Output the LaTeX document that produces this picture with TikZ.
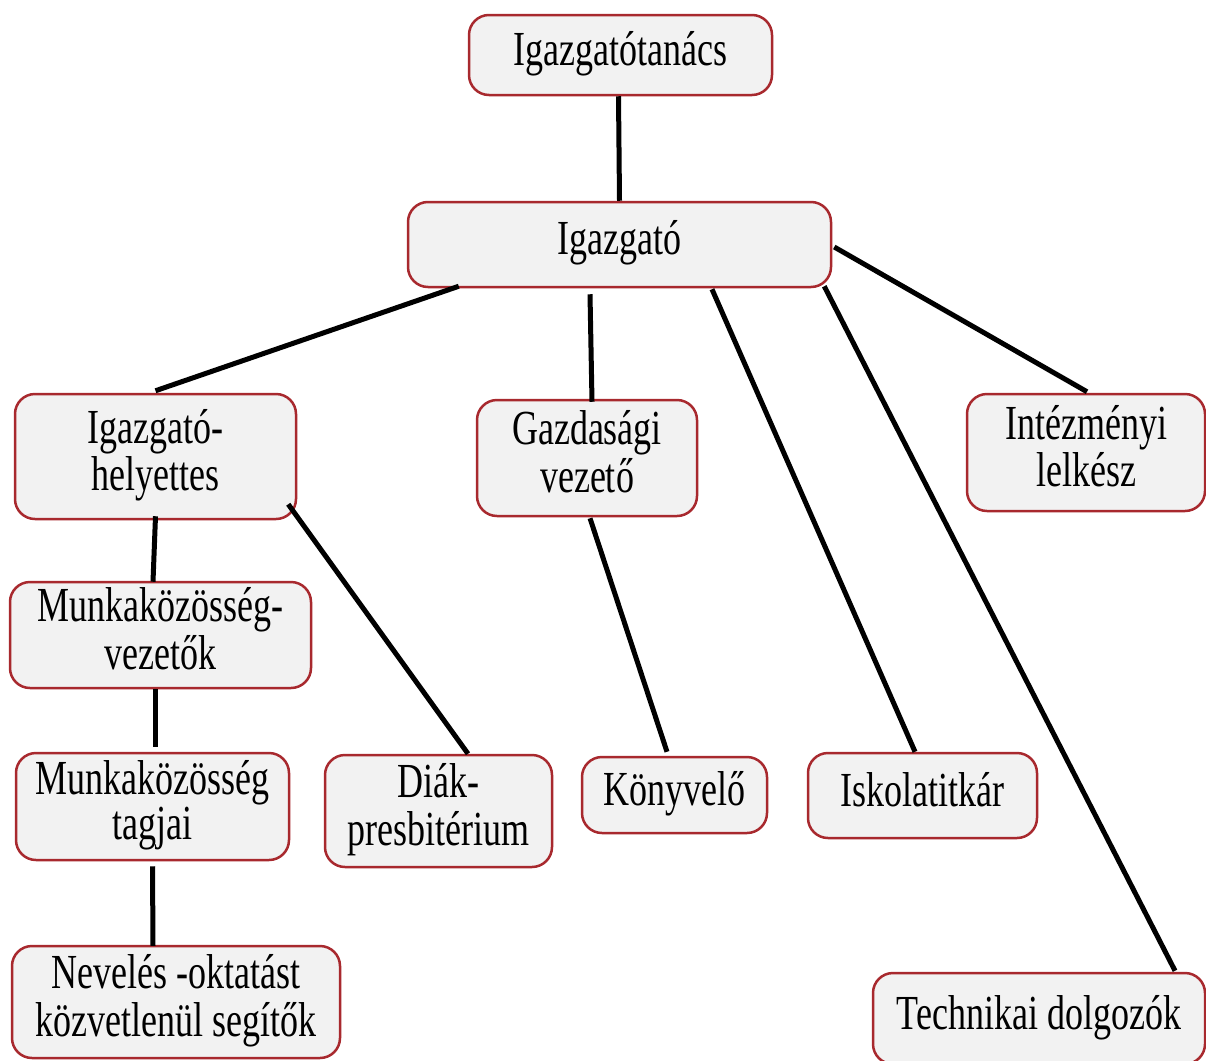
\documentclass[tikz,border=0pt]{standalone}
\usepackage{fontspec}
\setmainfont{Liberation Serif}
\usepackage{graphicx}
\definecolor{boxborder}{HTML}{A8292E}
\definecolor{boxfill}{HTML}{F2F2F2}
\newcommand{\vs}[1]{\scalebox{1}[1.36]{\begin{tabular}{@{}c@{}}#1\end{tabular}}}
\tikzset{
  orgbox/.style={draw=boxborder, fill=boxfill, line width=2.5pt, rounded corners=20pt, inner sep=0pt,
    font=\fontsize{36}{32}\selectfont},
  link/.style={line width=5pt, black}
}
\begin{document}
\begin{tikzpicture}[x=1pt,y=-1pt]
\useasboundingbox (0,0) rectangle (1206,1060);
\begin{scope}
\clip (0,0) rectangle (1206,1060);
\node[orgbox, minimum width=303pt, minimum height=80pt] (A) at (620.5,55) {\vs{Igazgatótanács}};
\node[orgbox, minimum width=423pt, minimum height=85pt] (B) at (619.5,244.5) {\vs{Igazgató}};
\node[orgbox, minimum width=281pt, minimum height=125pt] (C) at (155.5,456.5) {\vs{Igazgató-\\helyettes}};
\node[orgbox, minimum width=220pt, minimum height=116pt] (D) at (587,458) {\vs{Gazdasági\\vezető}};
\node[orgbox, minimum width=238pt, minimum height=117pt] (E) at (1086,452.5) {\vs{Intézményi\\lelkész}};
\node[orgbox, minimum width=301pt, minimum height=106pt] (F) at (160.5,635) {\vs{Munkaközösség-\\vezetők}};
\node[orgbox, minimum width=273pt, minimum height=107pt] (G) at (152.5,806.5) {\vs{Munkaközösség\\tagjai}};
\node[orgbox, minimum width=227pt, minimum height=112pt] (H) at (438.5,811) {\vs{Diák-\\presbitérium}};
\node[orgbox, minimum width=185pt, minimum height=76pt] (I) at (674.5,795) {\vs{Könyvelő}};
\node[orgbox, minimum width=229pt, minimum height=85pt] (J) at (922.5,795.5) {\vs{Iskolatitkár}};
\node[orgbox, minimum width=328pt, minimum height=112pt] (K) at (176,1002) {\vs{Nevelés -oktatást\\közvetlenül segítők}};
\node[orgbox, minimum width=332pt, minimum height=91pt] (L) at (1039,1018.5) {\vs{Technikai dolgozók}};

\draw[link] ([xshift=-2pt]A.south) -- (B.north);
\draw[link] ([xshift=52pt,yshift=2pt]B.south west) -- ([yshift=2pt]C.north);
\draw[link] ([xshift=-29.5pt,yshift=-6pt]B.south) -- ([xshift=5pt,yshift=-3pt]D.north);
\draw[link] ([xshift=92.5pt,yshift=-1pt]B.south) -- ([xshift=-7.5pt]J.north);
\draw[link] ([xshift=-8pt,yshift=2pt]B.south east) -- ([xshift=136pt,yshift=1pt]L.north);
\draw[link] ([xshift=2pt,yshift=-2.5pt]B.east) -- ([xshift=1pt,yshift=1pt]E.north);
\draw[link] ([yshift=4pt]C.south) -- ([xshift=-7.5pt,yshift=-1pt]F.north);
\draw[link] ([xshift=-9pt,yshift=16pt]C.south east) -- ([xshift=29.5pt]H.north);
\draw[link] ([xshift=-5.5pt]F.south) -- ([xshift=2.5pt,yshift=5pt]G.north);
\draw[link] ([yshift=-5pt]G.south) -- ([xshift=-23pt,yshift=-1pt]K.north);
\draw[link] ([xshift=3pt,yshift=-1pt]D.south) -- ([xshift=-7.5pt,yshift=4pt]I.north);
\end{scope}
\end{tikzpicture}
\end{document}
